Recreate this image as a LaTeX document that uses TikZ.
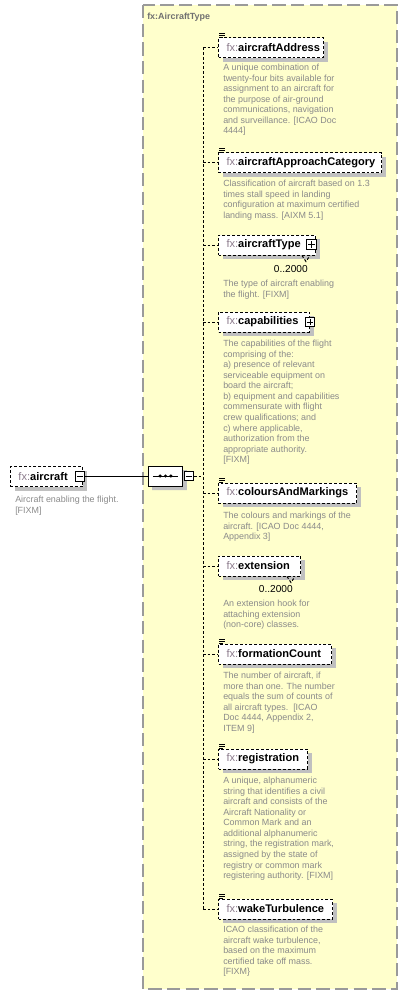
\documentclass[tikz,border=0pt]{standalone}
\usepackage{fontspec}
\setmainfont{Liberation Sans}
\usepackage{tikz}
\usetikzlibrary{positioning,calc,shadows,shapes.misc}
\definecolor{typefill}{HTML}{FFFFCC}
\definecolor{typeborder}{HTML}{9A9A9A}
\definecolor{titlegrey}{HTML}{707070}
\definecolor{nsgrey}{HTML}{8C7B8C}
\definecolor{docgrey}{HTML}{8A8A8A}
\definecolor{shadowgrey}{HTML}{C0C0C0}
\tikzset{
  typebox/.style={draw=typeborder, fill=typefill, line width=1pt, dash pattern=on 10pt off 4pt},
  typetitle/.style={anchor=west, inner sep=0pt, text=titlegrey, font=\fontsize{6.7pt}{7.5pt}\selectfont\bfseries},
  elembox/.style={draw, fill=white, anchor=west, align=left, text width=#1, dash pattern=on 2.2pt off 1.5pt, line width=0.75pt, minimum height=15pt, inner xsep=6pt, inner ysep=0pt, font=\fontsize{8.3pt}{9pt}\selectfont, drop shadow={shadow xshift=3pt, shadow yshift=-3pt, fill=shadowgrey, opacity=1}},
  seqbox/.style={chamfered rectangle, chamfered rectangle xsep=5pt, chamfered rectangle ysep=4pt, draw, fill=white, line width=0.75pt, minimum width=26pt, minimum height=15pt, inner sep=0pt, drop shadow={shadow xshift=3pt, shadow yshift=-3pt, fill=shadowgrey, opacity=1}},
  togglebox/.style={draw, fill=white, line width=0.75pt, minimum size=7pt, inner sep=0pt},
  doc/.style={anchor=north west, align=left, inner sep=0pt, text=docgrey, font=\fontsize{6.7pt}{7.9pt}\selectfont},
  occurs/.style={anchor=east, inner sep=0pt, font=\fontsize{7.6pt}{9pt}\selectfont},
  branch/.style={dash pattern=on 2pt off 1.5pt, line width=0.75pt},
  link/.style={line width=0.75pt}
}
\newcommand{\fxname}[1]{{\color{nsgrey}fx:}\textbf{#1}}
\newcommand{\simpleicon}[1]{%
  \draw[line width=0.6pt] ([xshift=0.75pt,yshift=3pt]#1.north west) -- ++(4.5pt,0pt)
    ([xshift=0.75pt,yshift=1.5pt]#1.north west) -- ++(4.5pt,0pt)
    ([xshift=0.75pt]#1.north west) -- ++(3pt,0pt);}
\newcommand{\multinotch}[1]{%
  \draw[branch] ([xshift=-10.5pt]#1.south east) -- ++(3pt,-4.5pt) -- ++(3pt,4.5pt);}
\newcommand{\plusmark}[1]{%
  \draw ([xshift=1.5pt]#1.west) -- ([xshift=-1.5pt]#1.east)
    ([yshift=-1.5pt]#1.north) -- ([yshift=1.5pt]#1.south);}
\newcommand{\minusmark}[1]{%
  \draw ([xshift=1.5pt]#1.west) -- ([xshift=-1.5pt]#1.east);}

\begin{document}
\begin{tikzpicture}[x=0.75pt, y=-0.75pt]
\useasboundingbox (0,0) rectangle (409,996);
% complex type
\draw[typebox] (143,5) rectangle (397,989);
\node[typetitle] (typeTitle) at (147,17) {fx:AircraftType};

% root element
\node[elembox=42pt] (aircraft) at (10,476.5) {\fxname{aircraft}};
\node[togglebox] (aircraftMinus) at ($(aircraft.east)+(-3,0)$) {};
\minusmark{aircraftMinus}
\node[doc] (aircraftDoc) at (15,496) {Aircraft enabling the flight.\\{}[FIXM]};

% sequence
\node[seqbox] (seq) at (165.5,476) {};
\draw[link] ([xshift=-9.4pt]seq.center) -- ([xshift=9.4pt]seq.center);
\foreach \dx in {-4.1,0,4.1}
  \fill ([xshift=\dx pt]seq.center) circle (1.3pt);
\node[togglebox] (seqMinus) at ($(seq.east)+(5.5,0)$) {};
\minusmark{seqMinus}
\draw[link] (aircraftMinus.east) -- (aircraftMinus.east -| seq.west);

% children
\node[elembox=66.75pt] (addr) at (218,47.5) {\fxname{aircraftAddress}};
\simpleicon{addr}
\node[doc] (addrDoc) at (223,64) {A unique combination of\\twenty-four bits available for\\assignment to an aircraft for\\the purpose of air-ground\\communications, navigation\\and surveillance. [ICAO Doc\\4444]};

\node[elembox=110.25pt] (approach) at (218,162.5) {\fxname{aircraftApproachCategory}};
\simpleicon{approach}
\node[doc] (approachDoc) at (223,180) {Classification of aircraft based on 1.3\\times stall speed in landing\\configuration at maximum certified\\landing mass. [AIXM 5.1]};

\node[elembox=60.75pt] (acType) at (218,245) {\fxname{aircraftType}};
\node[togglebox] (acTypePlus) at ($(acType.east)+(-4.5,-0.5)$) {};
\plusmark{acTypePlus}
\multinotch{acType}
\node[occurs] (acTypeOcc) at ($(acType.east)+(-8,24)$) {0..2000};
\node[doc] (acTypeDoc) at (223,280) {The type of aircraft enabling\\the flight. [FIXM]};

\node[elembox=56.25pt] (capab) at (218,322) {\fxname{capabilities}};
\node[togglebox] (capabPlus) at ($(capab.east)+(0,0)$) {};
\plusmark{capabPlus}
\node[doc] (capabDoc) at (223,340) {The capabilities of the flight\\comprising of the:\\a) presence of relevant\\serviceable equipment on\\board the aircraft;\\b) equipment and capabilities\\commensurate with flight\\crew qualifications; and\\c) where applicable,\\authorization from the\\appropriate authority.\\{}[FIXM]};

\node[elembox=91.5pt] (colours) at (218,493) {\fxname{coloursAndMarkings}};
\simpleicon{colours}
\node[doc] (coloursDoc) at (223,512) {The colours and markings of the\\aircraft. [ICAO Doc 4444,\\Appendix 3]};

\node[elembox=49.5pt] (ext) at (218,566) {\fxname{extension}};
\multinotch{ext}
\node[occurs] (extOcc) at ($(ext.east)+(-8,23)$) {0..2000};
\node[doc] (extDoc) at (223,600) {An extension hook for\\attaching extension\\(non-core) classes.};

\node[elembox=72.75pt] (formation) at (218,654) {\fxname{formationCount}};
\simpleicon{formation}
\node[doc] (formationDoc) at (223,672) {The number of aircraft, if\\more than one. The number\\equals the sum of counts of\\all aircraft types.~~[ICAO\\Doc 4444, Appendix 2,\\ITEM 9]};

\node[elembox=54.75pt] (regist) at (218,759) {\fxname{registration}};
\simpleicon{regist}
\node[doc] (registDoc) at (223,777) {A unique, alphanumeric\\string that identifies a civil\\aircraft and consists of the\\Aircraft Nationality or\\Common Mark and an\\additional alphanumeric\\string, the registration mark,\\assigned by the state of\\registry or common mark\\registering authority. [FIXM]};

\node[elembox=73.5pt] (wake) at (218,909) {\fxname{wakeTurbulence}};
\simpleicon{wake}
\node[doc] (wakeDoc) at (223,926) {ICAO classification of the\\aircraft wake turbulence,\\based on the maximum\\certified take off mass.\\{}[FIXM\}};

% connectors
\coordinate (trunk) at (203,0);
\draw[branch] (trunk |- addr.west) -- (trunk |- wake.west);
\foreach \e in {addr,approach,acType,capab,colours,ext,formation,regist,wake}
  \draw[branch] (trunk |- \e.west) -- (\e.west);
\draw[branch] (seqMinus.east) -- (seqMinus.east -| trunk);
\end{tikzpicture}
\end{document}
